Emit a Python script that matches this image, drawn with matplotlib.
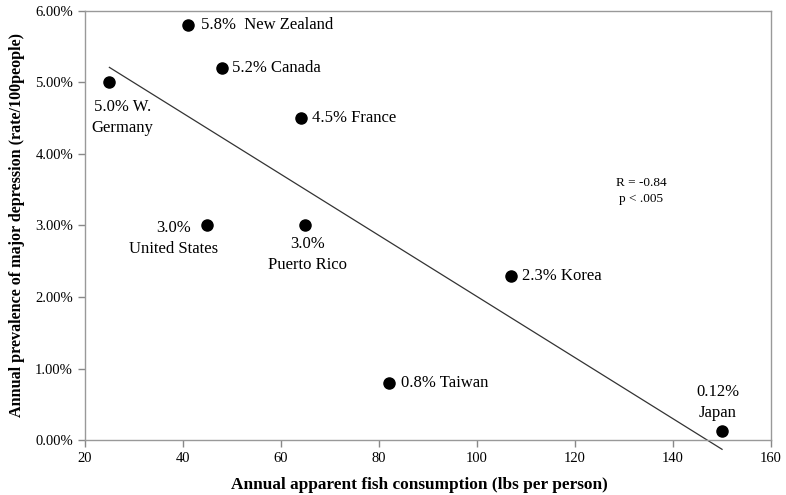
import numpy as np
import matplotlib
matplotlib.use("Agg")
import matplotlib.pyplot as plt
from matplotlib.ticker import FuncFormatter

countries = ["New Zealand", "Canada", "W. Germany", "France", "United States",
             "Puerto Rico", "Korea", "Taiwan", "Japan"]
fish = [41, 48, 25, 64, 45, 65, 107, 82, 150]
depression = [5.8, 5.2, 5.0, 4.5, 3.0, 3.0, 2.3, 0.8, 0.12]
labels = ["5.8%  New Zealand", "5.2% Canada", "5.0% W.\nGermany", "4.5% France",
          "3.0%\nUnited States", "3.0%\nPuerto Rico", "2.3% Korea", "0.8% Taiwan",
          "0.12%\nJapan"]
x_ticks = [20, 40, 60, 80, 100, 120, 140, 160]
y_ticks = [0, 1, 2, 3, 4, 5, 6]

# label placement (offset points, alignment)
offsets = [(9.4, 0, "left"), (7, 0, "left"), (9.4, -25.5, "center"), (8.6, 0, "left"),
           (-24.5, -9.4, "center"), (1.4, -21, "center"), (8, 0, "left"),
           (8.6, 0, "left"), (-3, 21, "center")]

plt.rcParams['font.family'] = ['Liberation Serif', 'DejaVu Serif']

fig = plt.figure(figsize=(7.86, 4.95), dpi=100)
ax = fig.add_axes([0.108, 0.111, 0.873, 0.867])

ax.scatter(fish, depression, s=64, color="black", zorder=3)

coef = np.polyfit(fish, depression, 1)
xl = np.array([min(fish), max(fish)])
ax.plot(xl, np.polyval(coef, xl), color="#333333", lw=0.9, clip_on=False)

for xv, yv, lab, (dx, dy, ha) in zip(fish, depression, labels, offsets):
    ax.annotate(lab, (xv, yv), xytext=(dx, dy), textcoords="offset points",
                ha=ha, va="center", fontsize=12, multialignment="center",
                linespacing=1.4)

ax.text(133.5, 3.48, "R = -0.84\np < .005", ha="center", va="center",
        fontsize=9.5, linespacing=1.5)

ax.set_xlim(20, 160)
ax.set_ylim(0, 6)
ax.set_xticks(x_ticks)
ax.set_yticks(y_ticks)
ax.yaxis.set_major_formatter(FuncFormatter(lambda v, p: f"{v:.2f}%"))
ax.tick_params(axis="both", labelsize=10.5, length=5, color="#888888", width=1)
for s in ax.spines.values():
    s.set_color("#999999")
    s.set_linewidth(1)

ax.set_xlabel("Annual apparent fish consumption (lbs per person)", fontsize=12.4,
              fontweight="bold", labelpad=9)
ax.xaxis.set_label_coords(0.488, -0.085)
ax.set_ylabel("Annual prevalence of major depression (rate/100people)", fontsize=11.6,
              fontweight="bold", labelpad=7)

fig.savefig("out.png", dpi=100)
